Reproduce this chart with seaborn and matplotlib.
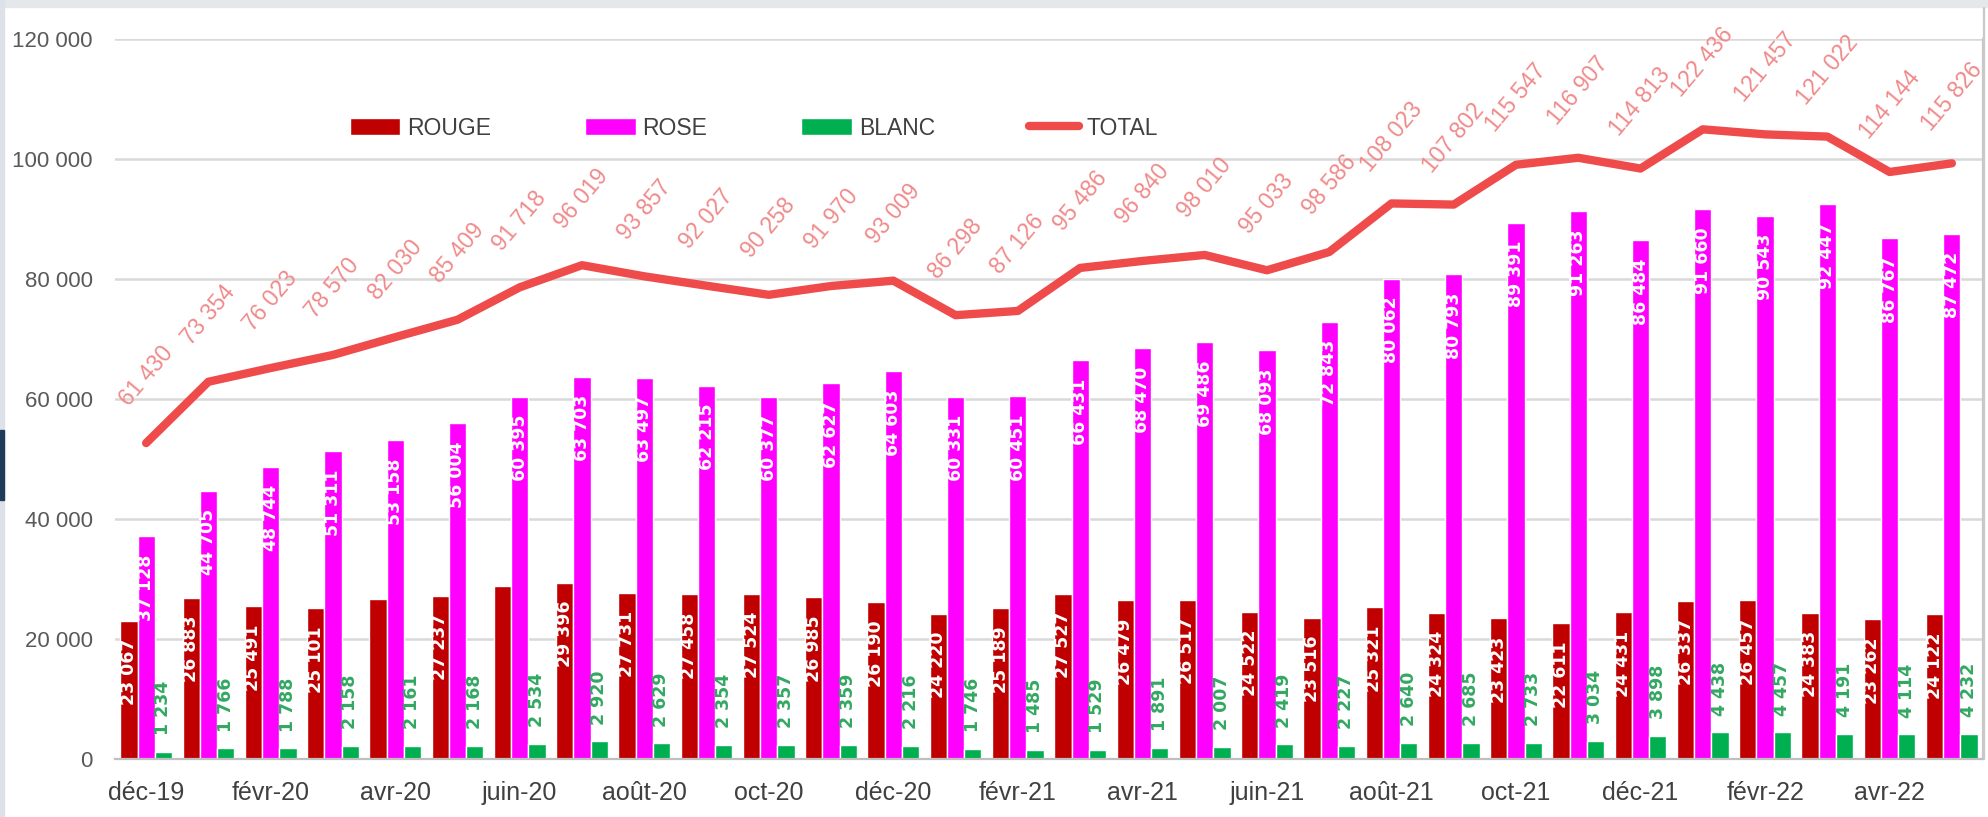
import matplotlib
matplotlib.use("Agg")
import matplotlib.pyplot as plt
from matplotlib.patches import Patch, Rectangle
from matplotlib.lines import Line2D
import seaborn as sns
import numpy as np
import pandas as pd

# ---------------- data ----------------
months = ["déc-19", "janv-20", "févr-20", "mars-20", "avr-20", "mai-20", "juin-20",
          "juil-20", "août-20", "sept-20", "oct-20", "nov-20", "déc-20", "janv-21",
          "févr-21", "mars-21", "avr-21", "mai-21", "juin-21", "juil-21", "août-21",
          "sept-21", "oct-21", "nov-21", "déc-21", "janv-22", "févr-22", "mars-22",
          "avr-22", "mai-22"]
rouge = [23067, 26883, 25491, 25101, 26711, 27237, 28789, 29396, 27731, 27458,
         27524, 26985, 26190, 24220, 25189, 27527, 26479, 26517, 24522, 23516,
         25321, 24324, 23423, 22611, 24431, 26337, 26457, 24383, 23262, 24122]
rouge_labelled = [True, True, True, True, False, True, False, True, True, True,
                  True, True, True, True, True, True, True, True, True, True,
                  True, True, True, True, True, True, True, True, True, True]
rose = [37128, 44705, 48744, 51311, 53158, 56004, 60395, 63703, 63497, 62215,
        60377, 62627, 64603, 60331, 60451, 66431, 68470, 69486, 68093, 72843,
        80062, 80793, 89391, 91263, 86484, 91660, 90543, 92447, 86767, 87472]
blanc = [1234, 1766, 1788, 2158, 2161, 2168, 2534, 2920, 2629, 2354,
         2357, 2359, 2216, 1746, 1485, 1529, 1891, 2007, 2419, 2227,
         2640, 2685, 2733, 3034, 3898, 4438, 4457, 4191, 4114, 4232]
total = [61430, 73354, 76023, 78570, 82030, 85409, 91718, 96019, 93857, 92027,
         90258, 91970, 93009, 86298, 87126, 95486, 96840, 98010, 95033, 98586,
         108023, 107802, 115547, 116907, 114813, 122436, 121457, 121022, 114144, 115826]
series_names = ["ROUGE", "ROSE", "BLANC"]
total_name = "TOTAL"
y_ticks = [0, 20000, 40000, 60000, 80000, 100000, 120000]

# ---------------- style ----------------
C_ROUGE, C_ROSE, C_BLANC = "#C00000", "#FF00FF", "#00B050"
C_TOTAL, C_TOTAL_LBL = "#EF4B4B", "#F08A8A"
C_BLANC_LBL = "#33A862"

sns.set_theme(style="white")
plt.rcParams["font.family"] = ["Liberation Sans", "DejaVu Sans"]

def fmt(v):
    return f"{v:,}".replace(",", " ")

W, H = 1988, 817
fig = plt.figure(figsize=(W / 100, H / 100), dpi=100, facecolor="white")
# slide background remnants
fig.patches.append(Rectangle((0, 1 - 7 / H), 1, 7 / H, transform=fig.transFigure,
                             color="#E4E8EB", zorder=0))
fig.patches.append(Rectangle((0, 0), 4 / W, 1, transform=fig.transFigure,
                             color="#DCE2E7", zorder=0))
fig.patches.append(Rectangle((0, 1 - 500 / H), 4 / W, 70 / H, transform=fig.transFigure,
                             color="#1F3B5A", zorder=0))

ax = fig.add_axes([115 / W, 58 / H, 1868 / W, 720 / H])

df = pd.DataFrame({
    "mois": months * 3,
    "type": [series_names[0]] * len(months) + [series_names[1]] * len(months) + [series_names[2]] * len(months),
    "valeur": rouge + rose + blanc,
})
sns.barplot(data=df, x="mois", y="valeur", hue="type", order=months,
            hue_order=series_names, palette=[C_ROUGE, C_ROSE, C_BLANC],
            width=0.83, saturation=1, errorbar=None, legend=False, ax=ax, zorder=2)

ax.set_xlim(-0.5, len(months) - 0.5)
ax.set_ylim(0, 120000)
ax.set_xlabel("")
ax.set_ylabel("")

# bar labels
cont_r, cont_p, cont_b = ax.containers[0], ax.containers[1], ax.containers[2]
lbl_kw = dict(textcoords="offset points", rotation=90, ha="center",
              fontsize=12.5, fontweight="bold", family="DejaVu Sans", zorder=4)
for rect, v, show in zip(cont_r, rouge, rouge_labelled):
    if show:
        ax.annotate(fmt(v), (rect.get_x() + rect.get_width() / 2, rect.get_height()),
                    xytext=(0, -13), va="top", color="white", **lbl_kw)
for rect, v in zip(cont_p, rose):
    ax.annotate(fmt(v), (rect.get_x() + rect.get_width() / 2, rect.get_height()),
                xytext=(0, -13), va="top", color="white", **lbl_kw)
for rect, v in zip(cont_b, blanc):
    ax.annotate(fmt(v), (rect.get_x() + rect.get_width() / 2, rect.get_height()),
                xytext=(0, 12), va="bottom", color=C_BLANC_LBL, **lbl_kw)

# axes styling
for s in ["left", "top"]:
    ax.spines[s].set_visible(False)
ax.spines["bottom"].set_color("#BFBFBF")
ax.spines["bottom"].set_linewidth(1.6)
ax.spines["right"].set_color("#C8C8C8")
ax.spines["right"].set_linewidth(1.6)
ax.yaxis.grid(True, color="#D9D9D9", linewidth=1.8, zorder=0)
ax.set_axisbelow(True)

ax.set_yticks(y_ticks)
ax.set_yticklabels([fmt(v) for v in y_ticks], fontsize=16, color="#595959")
ax.tick_params(axis="y", length=0, pad=16)

ax.set_xticks(np.arange(-0.5, len(months), 2))
ax.set_xticklabels([])
ax.tick_params(axis="x", which="major", length=10, width=1.6, color="#BFBFBF", direction="out")
ax.set_xticks(np.arange(0, len(months), 2), minor=True)
ax.set_xticklabels(months[::2], minor=True, fontsize=18, color="#404040")
ax.tick_params(axis="x", which="minor", length=0, pad=16)

# total line on hidden secondary axis
ax2 = ax.twinx()
sns.lineplot(x=np.arange(len(months)), y=total, ax=ax2, color=C_TOTAL,
             linewidth=6, solid_capstyle="round", zorder=5)
ax2.set_ylim(0, 140000)
ax2.set_xlim(-0.5, len(months) - 0.5)
ax2.set_axis_off()
for i, t in enumerate(total):
    ax2.annotate(fmt(t), (i, t), xytext=(0, 48), textcoords="offset points",
                 rotation=50, rotation_mode="anchor", ha="center", va="center",
                 color=C_TOTAL_LBL, fontsize=16.5, zorder=6)

# legend
handles = [Patch(facecolor=C_ROUGE), Patch(facecolor=C_ROSE), Patch(facecolor=C_BLANC),
           Line2D([], [], color=C_TOTAL, linewidth=6)]
leg = ax2.legend(handles, series_names + [total_name], ncol=4, loc="center left",
                 bbox_to_anchor=((350 - 115) / 1868, (759 - 128) / 720),
                 frameon=False, fontsize=16.5, handlelength=2.2, handleheight=0.75,
                 handletextpad=0.3, columnspacing=4.1, borderpad=0, borderaxespad=0)
for t in leg.get_texts():
    t.set_color("#404040")

# chart border on the right
fig.add_artist(Line2D([1983.5 / W, 1983.5 / W], [58 / H, 1 - 8 / H],
                      transform=fig.transFigure, color="#C8C8C8", linewidth=1.6))

fig.savefig("out.png", dpi=100, facecolor="white")
